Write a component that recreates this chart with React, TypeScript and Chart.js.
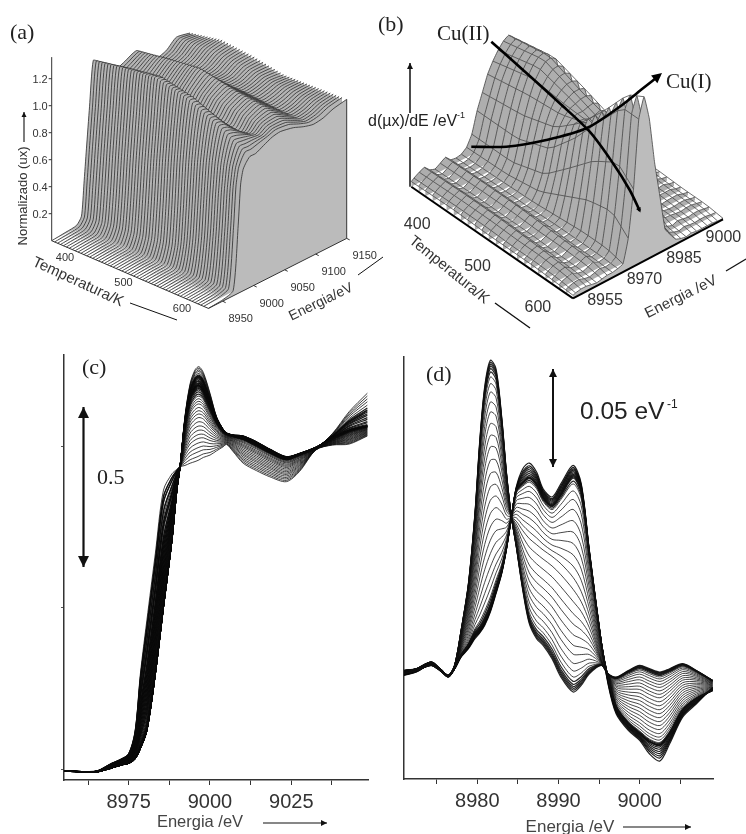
import React, { useEffect, useRef } from "react";
import { Chart, registerables } from "chart.js";

Chart.register(...registerables);

// NOTE ON THE DATA: the reference holds far too many overlapping curves to type one by one.
// Each family below is stored as a few end-member spectra read off the picture plus, for each curve,
// its level (panels c, d) or its temperature (panels a, b). Individual curves are
// therefore blended from those readings, not read point by point.

// ---------- panel (a): normalised XANES surface ----------
const energyA = [8927, 8950, 8967, 8975, 8979, 8983, 8988, 8994, 9003, 9016, 9030, 9043, 9064, 9080, 9096, 9112, 9128, 9150];
const rowTempsA = [367, 421, 474, 528, 581, 635];
const rowA367 = [0, .01, .02, .07, .3, .55, .85, 1.18, 1.15, 1.07, 1.03, 1.05, 1.09, 1.02, .96, .98, 1.04, 1.02];
const rowA421 = [0, .01, .02, .1, .3, .6, .92, 1.22, 1.2, 1.1, 1.02, 1.06, 1.13, 1.04, .98, 1.0, 1.05, 1.07];
const rowA474 = [0, .01, .02, .12, .35, .65, .95, 1.25, 1.24, 1.12, 1.02, 1.08, 1.16, 1.06, 1.0, 1.0, 1.04, 1.05];
const rowA528 = [0, .01, .02, .15, .4, .75, 1.02, 1.2, 1.19, 1.08, 1.0, 1.07, 1.11, 1.05, .99, 1.0, 1.02, 1.01];
const rowA581 = [0, .01, .03, .3, .6, .85, 1.0, 1.1, 1.09, 1.03, .97, 1.04, 1.08, 1.03, .97, .98, 1.01, 1.02];
const rowA635 = [0, .01, .04, .5, .8, .9, .94, .97, .97, 1.0, 1.03, 1.04, 1.02, .99, .97, .98, 1.01, 1.03];
const sliceTempsA = [367, 372, 377, 382, 387, 392, 397, 402, 407, 412, 417, 422, 427, 432, 437, 442, 447, 452, 457, 462, 467, 472, 477, 482, 487, 492, 497, 502, 507, 512, 517, 522, 527, 532, 537, 542, 547, 552, 557, 562, 567, 572, 577, 582, 587, 592, 597, 602, 607, 612, 617, 622, 627, 635];
const normTicks = [0.2, 0.4, 0.6, 0.8, 1.0, 1.2];
const tempTicks = [400, 500, 600];
const energyTicksA = [8950, 9000, 9050, 9100, 9150];

// ---------- panel (b): derivative surface ----------
const energyB = [8955, 8956, 8958, 8960, 8962, 8964, 8966, 8968, 8970, 8972, 8974, 8976, 8978, 8980, 8982, 8984, 8986, 8988, 8990, 8992, 8994, 8996, 8998, 9000, 9002, 9004, 9006, 9008, 9010, 9012];
const rowTempsB = [367, 434, 488, 528, 568, 608, 635];
const rowB367 = [.005, .007, .010, .012, .007, .005, .008, .011, .006, .005, .006, .010, .02, .04, .055, .07, .08, .088, .094, .097, .092, .07, .045, .025, .014, .009, .006, .008, .005, .004];
const rowB434 = [.006, .008, .011, .013, .008, .006, .009, .012, .007, .006, .007, .011, .02, .04, .06, .077, .09, .098, .103, .104, .10, .075, .045, .025, .014, .009, .006, .008, .005, .004];
const rowB488 = [.005, .008, .011, .013, .008, .006, .009, .012, .007, .006, .008, .016, .03, .052, .07, .08, .086, .089, .091, .091, .089, .068, .04, .022, .012, .008, .006, .008, .005, .004];
const rowB528 = [.005, .007, .01, .012, .007, .006, .008, .011, .007, .007, .01, .028, .052, .078, .09, .088, .085, .081, .082, .084, .08, .06, .034, .018, .01, .007, .005, .007, .005, .004];
const rowB568 = [.005, .007, .01, .011, .007, .005, .008, .01, .006, .007, .012, .04, .075, .11, .118, .1, .08, .065, .053, .05, .045, .032, .016, .006, .005, .006, .006, .006, .004, .003];
const rowB608 = [.004, .006, .008, .009, .006, .005, .007, .009, .006, .007, .012, .045, .09, .14, .15, .125, .09, .06, .03, .02, .01, .006, .004, .006, .005, .004, .005, .005, .004, .003];
const rowB635 = [.003, .004, .005, .005, .004, .003, .004, .005, .005, .006, .008, .03, .075, .14, .159, .135, .09, .055, .02, .012, .005, .003, .002, .003, .002, .002, .002, .002, .001, .001];
const sliceTempsB = [367, 379, 390, 402, 414, 425, 437, 449, 460, 472, 484, 495, 507, 519, 530, 542, 554, 565, 577, 589, 600, 612, 623, 635];
const energyTicksB = [8955, 8970, 8985, 9000];

// ---------- panel (c): XANES overlay ----------
const energyC = [8955.1, 8961.2, 8965.3, 8969.4, 8972.5, 8975, 8977, 8978.6, 8980.6, 8983.2, 8985.7, 8988.3, 8989.8, 8990.8, 8992.3, 8993.9, 8995.4, 8996.6, 8998, 9000, 9002, 9004.1, 9005.1, 9007.1, 9010.2, 9014.3, 9018.4, 9023.5, 9027.5, 9032.6, 9037.7, 9042.8, 9048.4];
const spectrumCLow = [-.003, -.005, -.003, .019, .033, .051, .123, .298, .463, .669, .864, .914, .928, .936, .940, .947, .952, .957, .965, .972, .985, .998, 1.005, .983, .947, .924, .905, .890, .921, .988, 1.003, 1.006, 1.031];
const spectrumCMid = [-.003, -.006, -.006, .005, .015, .021, .036, .067, .123, .298, .504, .710, .864, .936, 1.070, 1.152, 1.181, 1.188, 1.173, 1.127, 1.080, 1.047, 1.039, 1.034, 1.031, 1.013, .990, .967, .977, .996, 1.024, 1.049, 1.063];
const spectrumCTop = [-.003, -.006, -.006, .005, .015, .021, .036, .067, .123, .298, .504, .710, .864, .936, 1.091, 1.193, 1.235, 1.245, 1.226, 1.163, 1.091, 1.051, 1.039, 1.029, 1.019, .998, .977, .957, .972, .993, 1.039, 1.106, 1.163];
const peakLevelsC = [.957, .969, .983, .996, 1.010, 1.024, 1.036, 1.049, 1.062, 1.075, 1.088, 1.099, 1.109, 1.119, 1.130, 1.138, 1.146, 1.154, 1.160, 1.167, 1.173, 1.177, 1.180, 1.183, 1.185, 1.187, 1.188, 1.190, 1.193, 1.195, 1.199, 1.202, 1.206, 1.209, 1.212, 1.214, 1.216, 1.219, 1.224, 1.230, 1.235, 1.240, 1.245];
const edgeLevelsC = [.97, .98, 1.0, 1.02, 1.03, 1.05, 1.06, 1.07, 1.08, 1.09, 1.10, 1.11, 1.12, 1.13, 1.14, 1.15];
const edgeLastIndexC = 13;
const tickValuesC = [8962.5, 8975, 8987.5, 9000, 9012.5, 9025, 9037.5];
const tickLabelsC = [8975, 9000, 9025];
const yTicksC = [0, 0.5, 1];

// ---------- panel (d): derivative overlay ----------
const energyD = [8970.96, 8972.5, 8974.3, 8975.4, 8976.4, 8977.2, 8978, 8978.9, 8979.7, 8980.3, 8980.9, 8981.6, 8982.3, 8983, 8983.6, 8984.2, 8984.8, 8985.6, 8986.4, 8987.3, 8988.1, 8989.2, 8990.3, 8991.8, 8992.8, 8993.8, 8995.3, 8996.1, 8997.1, 8998.6, 9000, 9001.2, 9002.5, 9003.7, 9005.3, 9007, 9009];
const spectrumDHigh = [-.0009, 0, .0034, 0, -.0034, .0017, .0196, .0434, .0791, .1165, .1437, .1573, .1530, .1284, .0995, .0774, .0621, .0400, .0230, .0153, .0119, .0051, -.0043, -.0119, -.0085, -.0026, .0017, -.0026, -.0043, -.0009, .0017, 0, -.0017, 0, .0026, -.0009, -.0060];
const spectrumDMid = [-.0017, -.0005, .0026, -.0005, -.0036, .0009, .0131, .0277, .0485, .0685, .0842, .0944, .0955, .0893, .0808, .0774, .0748, .0697, .0655, .0624, .0598, .0566, .0525, .0451, .0379, .0264, .0043, -.0034, -.0119, -.0145, -.0158, -.0187, -.0204, -.0165, -.0094, -.0080, -.0085];
const spectrumDDouble = [-.0026, -.0009, .0017, -.0009, -.0039, 0, .0068, .0119, .0179, .0204, .0247, .0315, .0408, .0502, .0621, .0774, .0910, .0952, .0978, .0944, .0876, .0833, .0893, .0986, .0910, .0587, .0128, -.0043, -.0196, -.0281, -.0332, -.0374, -.0391, -.0332, -.0213, -.0153, -.0111];
const spectrumDTop = [-.0034, -.0017, .0026, 0, -.0043, 0, .0060, .0102, .0153, .0182, .0221, .0289, .0383, .0485, .0612, .0774, .0927, .1020, .1049, .1003, .0918, .0876, .0944, .1037, .0944, .0604, .0128, -.0077, -.0230, -.0315, -.0366, -.0434, -.0471, -.0383, -.0247, -.0179, -.0094];
const peakLevelsD = [.0315, .0320, .0325, .0332, .0349, .0366, .0408, .0459, .0519, .0587, .0655, .0723, .0791, .0859, .0927, .0995, .1063, .1131, .1190, .1250, .1309, .1360, .1411, .1454, .1488, .1513, .1530, .1542, .1552, .1562, .1573];
const doublePeakLevelsD = [.0985, .0995, .1005, .1015, .1025, .1035, .1049];
const tickValuesD = [8975, 8980, 8985, 8990, 8995, 9000, 9005];
const tickLabelsD = [8980, 8990, 9000];

// ---------- helpers ----------
const SANS = "'Liberation Sans'";
const SERIF = "'Liberation Serif'";
const W = 746;
const H = 834;

type Pt = { x: number; y: number };
type Txt = { x: number; y: number; s: string; font: string; color?: string; rot?: number; align?: CanvasTextAlign };
type Arrow = { from: Pt; to: Pt; w?: number; head?: number; heads?: "end" | "both" | "none" };
type Head = { at: Pt; towards: Pt; size: number };

const overlayPlugin = {
  id: "overlay",
  afterDatasetsDraw(chart: any, _a: any, opts: any) {
    const ctx = chart.ctx as CanvasRenderingContext2D;
    const head = (tip: Pt, back: Pt, size: number, color: string) => {
      const ang = Math.atan2(tip.y - back.y, tip.x - back.x);
      ctx.save();
      ctx.translate(tip.x, tip.y);
      ctx.rotate(ang);
      ctx.fillStyle = color;
      ctx.beginPath();
      ctx.moveTo(0, 0);
      ctx.lineTo(-size, -size * 0.5);
      ctx.lineTo(-size, size * 0.5);
      ctx.closePath();
      ctx.fill();
      ctx.restore();
    };
    (opts.arrows || []).forEach((a: Arrow) => {
      ctx.save();
      ctx.strokeStyle = "#111";
      ctx.lineWidth = a.w ?? 1.2;
      ctx.beginPath();
      ctx.moveTo(a.from.x, a.from.y);
      ctx.lineTo(a.to.x, a.to.y);
      ctx.stroke();
      ctx.restore();
      if (a.heads !== "none") head(a.to, a.from, a.head ?? 6, "#111");
      if (a.heads === "both") head(a.from, a.to, a.head ?? 6, "#111");
    });
    (opts.headsOnly || []).forEach((h: Head) => head(h.at, h.towards, h.size, "#000"));
    (opts.texts || []).forEach((t: Txt) => {
      ctx.save();
      ctx.translate(t.x, t.y);
      if (t.rot) ctx.rotate((t.rot * Math.PI) / 180);
      ctx.font = t.font;
      ctx.fillStyle = t.color ?? "#222";
      ctx.textAlign = t.align ?? "center";
      ctx.textBaseline = "middle";
      ctx.fillText(t.s, 0, 0);
      ctx.restore();
    });
  },
};

function blendRows(temp: number, temps: number[], rows: number[][]): number[] {
  let i = 0;
  while (i < temps.length - 2 && temp > temps[i + 1]) i++;
  const t = (temp - temps[i]) / (temps[i + 1] - temps[i]);
  return rows[i].map((v, j) => v + t * (rows[i + 1][j] - v));
}

function blendToLevel(level: number, idx: number, low: number[], high: number[]): number[] {
  const t = (level - low[idx]) / (high[idx] - low[idx]);
  return low.map((v, j) => v + t * (high[j] - v));
}

function planeOptions(overlay: any) {
  return {
    responsive: false,
    animation: false as const,
    events: [] as any[],
    layout: { padding: 0 },
    scales: {
      x: { type: "linear", min: 0, max: W, display: false },
      y: { type: "linear", min: 0, max: H, reverse: true, display: false },
    },
    plugins: { legend: { display: false }, tooltip: { enabled: false }, overlay },
  };
}

function overlayLine(points: Pt[], color: string, width: number, order: number, tension = 0) {
  return { data: points, borderColor: color, borderWidth: width, pointRadius: 0, fill: false, order, tension };
}

function surfaceDatasets(
  energies: number[],
  temps: number[],
  valueRows: number[][],
  project: (T: number, E: number, v: number) => Pt,
  style: { fill: string; lastFill: string; line: string; width: number; tension: number; mesh: boolean }
) {
  const out: any[] = [];
  temps.forEach((T, k) => {
    const order = 5000 - 3 * k;
    out.push({
      data: energies.map((E, j) => project(T, E, valueRows[k][j])),
      borderColor: style.line,
      borderWidth: style.width,
      backgroundColor: k === temps.length - 1 ? style.lastFill : style.fill,
      pointRadius: 0,
      fill: "+1",
      tension: style.tension,
      order,
    });
    out.push({
      data: energies.map((E) => project(T, E, 0)),
      borderColor: "rgba(0,0,0,0)",
      borderWidth: 0,
      pointRadius: 0,
      fill: false,
      order,
    });
    if (style.mesh && k < temps.length - 1) {
      const pts: Pt[] = [];
      energies.forEach((E, j) => {
        pts.push(project(T, E, valueRows[k][j]));
        pts.push(project(temps[k + 1], E, valueRows[k + 1][j]));
        pts.push({ x: NaN, y: NaN });
      });
      out.push({ data: pts, borderColor: style.line, borderWidth: 0.8, pointRadius: 0, fill: false, order: order - 1, spanGaps: false });
    }
  });
  return out;
}

// ---------- panel builders ----------
function configA() {
  const Tmin = 367, Tmax = 635, Emin = 8927, Emax = 9150;
  const project = (T: number, E: number, v: number): Pt => {
    const tf = (T - Tmin) / (Tmax - Tmin);
    const ef = (E - Emin) / (Emax - Emin);
    return { x: 51.7 + tf * 156.7 + ef * 138.3, y: 240.7 + tf * 67.7 - ef * 70 - v * 135 };
  };
  const rows = [rowA367, rowA421, rowA474, rowA528, rowA581, rowA635];
  const values = sliceTempsA.map((T) => blendRows(T, rowTempsA, rows));
  const datasets = surfaceDatasets(energyA, sliceTempsA, values, project, { fill: "#b4b4b4", lastFill: "#bbbbbb", line: "#333", width: 0.85, tension: 0.2, mesh: false });
  const axisColor = "#333";
  datasets.push(overlayLine([project(Tmin, Emin, 0), project(Tmin, Emin, 1.36)], axisColor, 1, 1));
  datasets.push(overlayLine([project(Tmin, Emin, 0), project(Tmax, Emin, 0)], axisColor, 1, 1));
  datasets.push(overlayLine([project(Tmax, Emin, 0), project(Tmax, Emax, 0)], axisColor, 1, 1));
  datasets.push(overlayLine([project(Tmax, Emax, 0), project(Tmax, Emax, rowA635[rowA635.length - 1])], axisColor, 1, 1));
  normTicks.forEach((v) => {
    const p = project(Tmin, Emin, v);
    datasets.push(overlayLine([p, { x: p.x - 3, y: p.y }], axisColor, 1, 1));
  });
  energyTicksA.forEach((E) => {
    const p = project(Tmax, E, 0);
    datasets.push(overlayLine([p, { x: p.x + 3, y: p.y + 1.5 }], axisColor, 1, 1));
  });
  const font = `11px ${SANS}`;
  const texts: Txt[] = [
    { x: 10, y: 33, s: "(a)", font: `22px ${SERIF}`, align: "left", color: "#222" },
    { x: 23, y: 196, s: "Normalizado (ux)", font: `13px ${SANS}`, rot: -90, color: "#333" },
    { x: 78, y: 282, s: "Temperatura/K", font: `15px ${SANS}`, rot: 24.8, color: "#333" },
    { x: 321, y: 302, s: "Energia/eV", font: `14px ${SANS}`, rot: -26, color: "#333" },
  ];
  normTicks.forEach((v) => {
    const p = project(Tmin, Emin, v);
    texts.push({ x: p.x - 4, y: p.y + 1, s: v.toFixed(1), font, align: "right", color: "#333" });
  });
  tempTicks.forEach((T) => {
    const p = project(T, Emin, 0);
    texts.push({ x: p.x - 6, y: p.y + 9, s: String(T), font, color: "#333" });
  });
  energyTicksA.forEach((E) => {
    const p = project(Tmax, E, 0);
    texts.push({ x: p.x + 18, y: p.y + 18, s: String(E), font, color: "#333" });
  });
  const arrows: Arrow[] = [
    { from: { x: 24, y: 142 }, to: { x: 24, y: 112 }, w: 1.1, head: 5 },
    { from: { x: 130, y: 303 }, to: { x: 177, y: 320 }, w: 1, heads: "none" },
    { from: { x: 358, y: 275 }, to: { x: 383, y: 257 }, w: 1, heads: "none" },
  ];
  return { type: "line", data: { datasets }, options: planeOptions({ texts, arrows }), plugins: [overlayPlugin] };
}

const cuIIPath: Pt[] = [{ x: 491.3, y: 41.7 }, { x: 523, y: 70 }, { x: 559.7, y: 103.3 }, { x: 589.7, y: 131.7 }, { x: 613, y: 163.3 }, { x: 629.7, y: 190 }, { x: 639.7, y: 210.7 }];
const cuIPath: Pt[] = [{ x: 471.3, y: 146.7 }, { x: 506.3, y: 146.7 }, { x: 546.3, y: 140 }, { x: 586.3, y: 128.3 }, { x: 619.7, y: 106.7 }, { x: 643, y: 88.3 }, { x: 659.7, y: 75 }];

function configB() {
  const Tmin = 367, Tmax = 635, Emin = 8955, Emax = 9012;
  const project = (T: number, E: number, v: number): Pt => {
    const tf = (T - Tmin) / (Tmax - Tmin);
    const ef = (E - Emin) / (Emax - Emin);
    return { x: 411.3 + tf * 161.7 + ef * 150, y: 186.7 + tf * 111.7 - ef * 79 - v * 1033 };
  };
  const rows = [rowB367, rowB434, rowB488, rowB528, rowB568, rowB608, rowB635];
  const values = sliceTempsB.map((T) => blendRows(T, rowTempsB, rows));
  const datasets = surfaceDatasets(energyB, sliceTempsB, values, project, { fill: "#aeaeae", lastFill: "#bcbcbc", line: "#4a4a4a", width: 0.85, tension: 0.1, mesh: true });
  datasets.push(overlayLine([project(Tmin, Emin, 0), project(Tmax, Emin, 0)], "#000", 2, 2));
  datasets.push(overlayLine([project(Tmax, Emin, 0), project(Tmax, Emax, 0)], "#000", 2, 2));
  datasets.push(overlayLine(cuIIPath, "#000", 2.6, 1, 0.3));
  datasets.push(overlayLine(cuIPath, "#000", 2.6, 1, 0.3));
  const font = `16px ${SANS}`;
  const texts: Txt[] = [
    { x: 378, y: 25, s: "(b)", font: `22px ${SERIF}`, align: "left" },
    { x: 437, y: 34, s: "Cu(II)", font: `21px ${SERIF}`, align: "left" },
    { x: 666, y: 82, s: "Cu(I)", font: `21px ${SERIF}`, align: "left" },
    { x: 368, y: 122, s: "d(µx)/dE /eV", font: `16px ${SANS}`, align: "left", color: "#222" },
    { x: 457, y: 116, s: "-1", font: `9px ${SANS}`, align: "left", color: "#222" },
    { x: 449, y: 270, s: "Temperatura/K", font: `15px ${SANS}`, rot: 39, color: "#333" },
    { x: 681, y: 297, s: "Energia /eV", font: `15px ${SANS}`, rot: -26.6, color: "#333" },
  ];
  tempTicks.forEach((T) => {
    const p = project(T, Emin, 0);
    texts.push({ x: p.x - 14, y: p.y + 24, s: String(T), font, color: "#333" });
  });
  energyTicksB.forEach((E) => {
    const p = project(Tmax, E, 0);
    texts.push({ x: p.x + 32, y: p.y + 2, s: String(E), font, color: "#333" });
  });
  const arrows: Arrow[] = [
    { from: { x: 410, y: 186.7 }, to: { x: 410, y: 137 }, w: 1.5, heads: "none" },
    { from: { x: 410, y: 113 }, to: { x: 410, y: 63 }, w: 1.5, head: 6 },
    { from: { x: 495, y: 303 }, to: { x: 530, y: 328 }, w: 1.4, heads: "none" },
    { from: { x: 726, y: 271 }, to: { x: 746, y: 259 }, w: 1.2, heads: "none" },
  ];
  const headsOnly: Head[] = [
    { at: { x: 640.5, y: 212.5 }, towards: cuIIPath[5], size: 5 },
    { at: { x: 662, y: 73 }, towards: cuIPath[5], size: 10 },
  ];
  return { type: "line", data: { datasets }, options: planeOptions({ texts, arrows, headsOnly }), plugins: [overlayPlugin] };
}

function axisOptions(cfg: {
  xMin: number; xMax: number; yMin: number; yMax: number; pad: any; axisH: number;
  ticks: number[]; labels: number[]; yTicks: number[]; overlay: any;
}) {
  return {
    responsive: false,
    animation: false as const,
    events: [] as any[],
    layout: { padding: cfg.pad },
    scales: {
      x: {
        type: "linear",
        min: cfg.xMin,
        max: cfg.xMax,
        afterBuildTicks: (s: any) => { s.ticks = cfg.ticks.map((value) => ({ value })); },
        afterFit: (s: any) => { s.height = cfg.axisH; },
        ticks: {
          autoSkip: false,
          maxRotation: 0,
          padding: 5,
          color: "#333",
          font: { size: 20, family: "Liberation Sans" },
          callback: (v: number) => (cfg.labels.includes(v) ? String(v) : ""),
        },
        grid: { drawOnChartArea: false, drawTicks: true, tickLength: 5, tickColor: "#333", tickWidth: 1 },
        border: { color: "#333", width: 1.5 },
      },
      y: {
        type: "linear",
        min: cfg.yMin,
        max: cfg.yMax,
        afterBuildTicks: (s: any) => { s.ticks = cfg.yTicks.map((value) => ({ value })); },
        afterFit: (s: any) => { s.width = 0; },
        ticks: { display: false },
        grid: { drawOnChartArea: false, drawTicks: cfg.yTicks.length > 0, tickLength: 3, tickColor: "#555" },
        border: { color: "#333", width: 1.5 },
      },
    },
    plugins: { legend: { display: false }, tooltip: { enabled: false }, overlay: cfg.overlay },
  };
}

function curve(energies: number[], values: number[], color: string, width: number) {
  return {
    data: energies.map((x, i) => ({ x, y: values[i] })),
    borderColor: color,
    borderWidth: width,
    pointRadius: 0,
    fill: false,
    tension: 0.3,
  };
}

function configC() {
  const idx = 17;
  const mid = spectrumCMid[idx];
  const datasets: any[] = peakLevelsC.map((lv) =>
    curve(
      energyC,
      lv <= mid ? blendToLevel(lv, idx, spectrumCLow, spectrumCMid) : blendToLevel(lv, idx, spectrumCMid, spectrumCTop),
      "rgba(10,10,10,0.92)",
      lv >= 1.16 && lv <= 1.22 ? 1.2 : 0.85
    )
  );
  edgeLevelsC.forEach((lv) => {
    const full = blendToLevel(lv, idx, spectrumCLow, spectrumCMid);
    datasets.push(curve(energyC.slice(0, edgeLastIndexC + 1), full.slice(0, edgeLastIndexC + 1), "rgba(0,0,0,0.95)", 1.3));
  });
  const texts: Txt[] = [
    { x: 82, y: 368, s: "(c)", font: `22px ${SERIF}`, align: "left" },
    { x: 97, y: 478, s: "0.5", font: `22px ${SERIF}`, align: "left" },
    { x: 200, y: 822, s: "Energia /eV", font: `16.5px ${SANS}`, color: "#444" },
  ];
  const arrows: Arrow[] = [
    { from: { x: 83.5, y: 407 }, to: { x: 83.5, y: 567 }, w: 2.2, head: 11, heads: "both" },
    { from: { x: 263, y: 823 }, to: { x: 327, y: 823 }, w: 1.1, head: 6 },
  ];
  return {
    type: "line",
    data: { datasets },
    options: axisOptions({
      xMin: 8955.1, xMax: 9048.6, yMin: -0.031, yMax: 1.281,
      pad: { left: 64, top: 355, right: 378, bottom: 0 }, axisH: 54,
      ticks: tickValuesC, labels: tickLabelsC, yTicks: yTicksC,
      overlay: { texts, arrows },
    }),
    plugins: [overlayPlugin],
  };
}

function configD() {
  const midLevel = spectrumDMid[11];
  const datasets: any[] = peakLevelsD.map((lv) =>
    curve(
      energyD,
      lv <= midLevel ? blendToLevel(lv, 11, spectrumDDouble, spectrumDMid) : blendToLevel(lv, 11, spectrumDMid, spectrumDHigh),
      "rgba(15,15,15,0.9)",
      lv > 0.15 || lv < 0.035 ? 1.2 : 0.85
    )
  );
  doublePeakLevelsD.forEach((lv) => {
    datasets.push(curve(energyD, blendToLevel(lv, 18, spectrumDDouble, spectrumDTop), "rgba(10,10,10,0.92)", 1.2));
  });
  const texts: Txt[] = [
    { x: 426, y: 375, s: "(d)", font: `22px ${SERIF}`, align: "left" },
    { x: 580, y: 412, s: "0.05 eV", font: `24.5px ${SANS}`, align: "left", color: "#222" },
    { x: 667, y: 405, s: "-1", font: `12px ${SANS}`, align: "left", color: "#222" },
    { x: 570, y: 827, s: "Energia /eV", font: `17px ${SANS}`, color: "#444" },
  ];
  const arrows: Arrow[] = [
    { from: { x: 553, y: 369 }, to: { x: 553, y: 467 }, w: 2, head: 8, heads: "both" },
    { from: { x: 623, y: 827 }, to: { x: 691, y: 827 }, w: 1.1, head: 6 },
  ];
  return {
    type: "line",
    data: { datasets },
    options: axisOptions({
      xMin: 8970.96, xMax: 9009.04, yMin: -0.05627, yMax: 0.159,
      pad: { left: 404, top: 357, right: 33, bottom: 0 }, axisH: 55,
      ticks: tickValuesD, labels: tickLabelsD, yTicks: [],
      overlay: { texts, arrows },
    }),
    plugins: [overlayPlugin],
  };
}

const canvasStyle: React.CSSProperties = { position: "absolute", left: 0, top: 0, filter: "blur(0.4px)" };

export default function App() {
  const refs = [useRef<HTMLCanvasElement>(null), useRef<HTMLCanvasElement>(null), useRef<HTMLCanvasElement>(null), useRef<HTMLCanvasElement>(null)];
  useEffect(() => {
    const configs = [configA(), configB(), configC(), configD()];
    const charts = configs.map((cfg, i) => new Chart(refs[i].current as HTMLCanvasElement, cfg as any));
    return () => charts.forEach((c) => c.destroy());
  }, []);
  return (
    <div style={{ position: "fixed", left: 0, top: 0, width: W, height: H, background: "#fff", overflow: "hidden" }}>
      {refs.map((r, i) => (
        <canvas key={i} ref={r} width={W} height={H} style={canvasStyle} />
      ))}
    </div>
  );
}
